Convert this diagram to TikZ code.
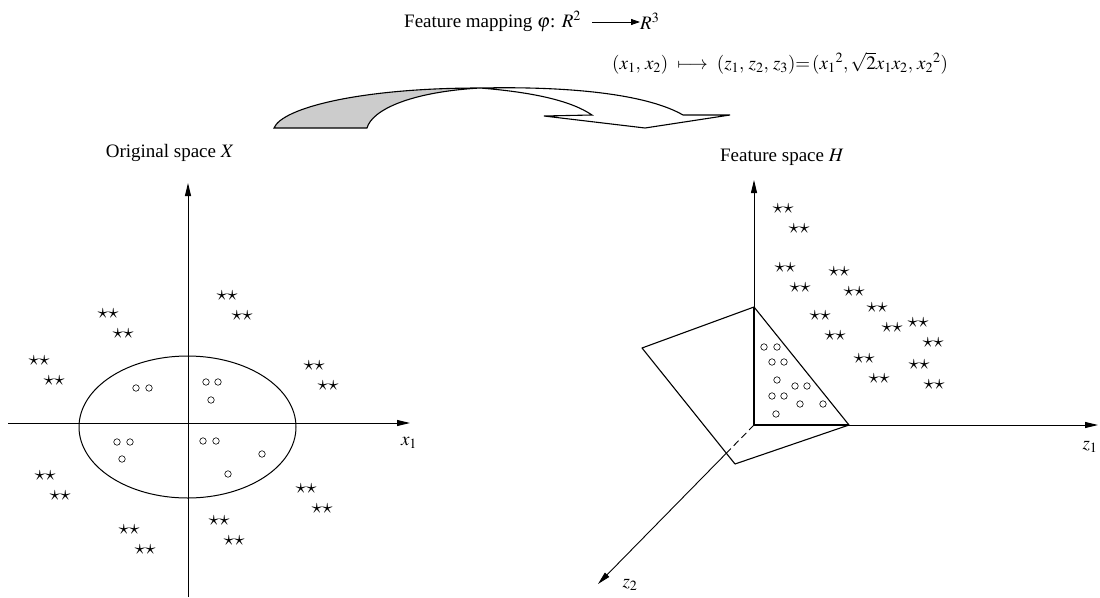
\documentclass[tikz,border=0pt]{standalone}
\usepackage{amsmath}
\usepackage{mathptmx}
\usepackage{fontspec}
\setmainfont{Liberation Serif}
\usepackage{tikz}
\usetikzlibrary{arrows.meta,positioning,calc,shapes.geometric}

\begin{document}
\begin{tikzpicture}[x=1pt,y=-1pt,
  lbl/.style={inner sep=0pt,font=\fontsize{19}{22}\selectfont},
  starpair/.style={inner sep=0pt,font=\fontsize{21}{21}\selectfont},
  dot/.style={circle,draw,inner sep=0pt,minimum size=6.5pt,line width=0.6pt},
  axis/.style={line width=0.9pt,-{Triangle[length=13pt,width=6pt]}},
  edge/.style={line width=1.1pt,line join=round},
  ribbon/.style={line width=1.1pt,line join=miter}
]
\useasboundingbox (0,0) rectangle (1100,597);

% mapping text
\node[lbl,anchor=west] (maptxt) at (404,21) {Feature mapping $\varphi$: $R^2$};
\node[lbl,anchor=west] (rthree) at (640,21) {$R^3$};
\draw[-{Triangle[length=9pt,width=6pt]},line width=0.8pt]
  ([xshift=11pt,yshift=-1pt]maptxt.east) -- ([yshift=-1pt]rthree.west);
\node[lbl,anchor=west] (fmap) at (612,63)
  {$(x_1,\,x_2)\ \longmapsto\ (z_1,\,z_2,\,z_3){=}\,(x_1{}^2,\sqrt{2}x_1x_2,\,x_2{}^2)$};

% twisted arrow
\coordinate (ra) at (274,128);
\coordinate (rb) at (367,128);
\coordinate (rc) at (480,88);
\coordinate (rd) at (683,115);
\coordinate (re) at (592,115);
\coordinate (rf) at (544,116);
\coordinate (rg) at (645,128);
\coordinate (rh) at (730,115);
\draw[ribbon,fill=gray!40] (ra) .. controls (282,108) and (360,88) .. (rc)
  .. controls (410,92) and (372,110) .. (rb) -- cycle;
\draw[ribbon,fill=white] (rc) .. controls (580,86) and (650,96) .. (rd)
  -- (rh) -- (rg) -- (rf) -- (re) .. controls (570,100) and (530,92) .. (rc);

% original space
\node[lbl] (origlab) at (170,153) {Original space $X$};
\coordinate (x1l) at (8,423);
\coordinate (x1r) at (410,423);
\coordinate (x2b) at (188,597);
\coordinate (x2t) at (188,183);
\draw[axis] (x1l) -- (x1r);
\draw[axis] (x2b) -- (x2t);
\node[lbl] (x1lab) at (409,443) {$x_1$};
\node[draw,ellipse,line width=1pt,minimum width=217pt,minimum height=142pt]
  (bound) at (187.5,427) {};

\foreach \p [count=\i] in {(136,388),(149,388),(206,382),(218,382),(211,400),
  (117,442),(130,442),(122,459),(203,441),(216,441),(262,454),(228,474)}
  \node[dot] (cl\i) at \p {};
\foreach \p [count=\i] in {(227,296),(242,316),(108,314),(123,334),
  (39,361),(54,381),(314,366),(328,386),(45,476),(60,496),
  (306,489),(322,509),(129,530),(145,550),(219,521),(234,541)}
  \node[starpair] (sl\i) at \p {$\star\star$};

% feature space
\node[lbl] (featlab) at (782,157) {Feature space $H$};
\coordinate (o2) at (754,425);
\coordinate (z3t) at (754,180);
\coordinate (z1r) at (1098,425);
\coordinate (z2e) at (598,584);
\coordinate (hid) at ($(o2)!0.177!(z2e)$);
\draw[axis] (o2) -- (z3t);
\draw[axis] (o2) -- (z1r);
\draw[line width=0.9pt,dash pattern=on 7pt off 4pt] (o2) -- (hid);
\draw[axis] (hid) -- (z2e);
\node[lbl] (z1lab) at (1090,447) {$z_1$};
\node[lbl] (z2lab) at (630,585) {$z_2$};

\coordinate (p1) at (754,307);
\coordinate (p2) at (642,348);
\coordinate (p3) at (735,464);
\coordinate (p4) at (849,425);
\draw[edge] (p1) -- (p2) -- (p3) -- (p4) -- cycle;
\draw[line width=2.2pt] (p1) -- (o2) -- (p4);

\foreach \p [count=\i] in {(764,347),(777,347),(772,362),(784,362),
  (777,380),(795,386),(807,386),(772,396),(784,396),(800,404),(823,404),(776,414)}
  \node[dot] (cr\i) at \p {};
\foreach \p [count=\i] in {(783,209),(799,229),(785,268),(800,288),
  (839,272),(854,292),(877,308),(892,328),(918,323),(933,343),
  (820,316),(835,336),(864,359),(879,379),(919,365),(934,385)}
  \node[starpair] (sr\i) at \p {$\star\star$};
\end{tikzpicture}
\end{document}
